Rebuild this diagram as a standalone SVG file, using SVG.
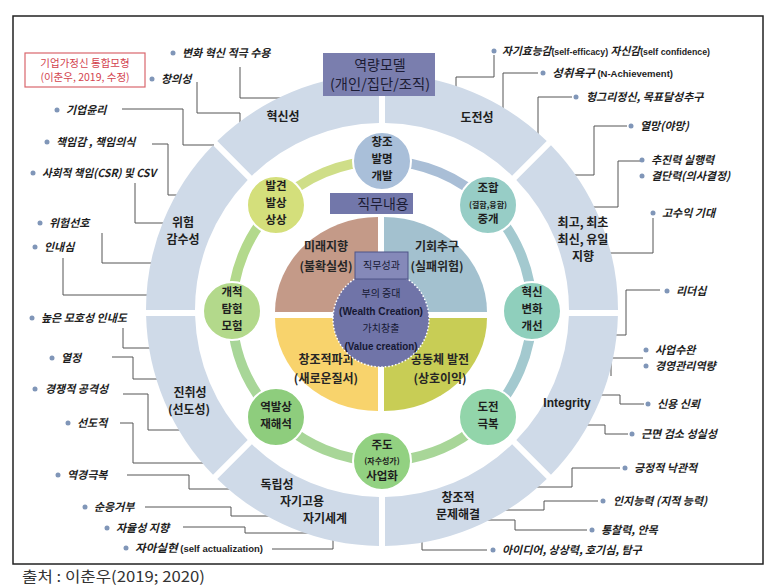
<svg xmlns="http://www.w3.org/2000/svg" width="778" height="585" viewBox="0 0 778 585">
<style>
text{font-family:"Noto Sans CJK KR","Noto Sans",sans-serif}
.seg{fill:#cfdae8}
.lbl{font-size:12px;font-weight:bold;fill:#1e1e1e;text-anchor:middle}
.en{font-family:"Liberation Sans",Arial,sans-serif;font-weight:bold}
.ct{font-size:11.5px;font-weight:bold;fill:#1e1e1e;text-anchor:middle}
.cs{font-size:8px}
.qt{font-size:12px;font-weight:bold;fill:#262626;text-anchor:middle}
.it{font-size:11px;font-weight:bold;font-style:italic;fill:#1e1e1e}
.ie{font-family:"Liberation Sans",Arial,sans-serif;font-style:normal;font-size:9px}
.dot{fill:#8096b8}
.con{fill:none;stroke:#555;stroke-width:1}
.cc{stroke:#fff;stroke-width:2}
.arc{fill:none;stroke-width:10}
.bt{font-size:14px;fill:#1c1c34;text-anchor:middle}
.mt{font-size:10px;fill:#161833;text-anchor:middle}
</style>

<g id="connectors">
<polyline class="con" points="240,67 240,98 290,98"/>
<polyline class="con" points="197,82 197,113 240,113 240,130"/>
<polyline class="con" points="122,109 183,109 183,145 214,145"/>
<polyline class="con" points="152,144 168,144 168,195 182,195"/>
<polyline class="con" points="135,183 135,223 168,223"/>
<polyline class="con" points="102,233 102,263 155,263"/>
<polyline class="con" points="63,258 63,295 152,295"/>
<polyline class="con" points="123,328 123,348 155,348"/>
<polyline class="con" points="112,357 133,357 133,379 162,379"/>
<polyline class="con" points="123,394 148,394 148,430 185,430"/>
<polyline class="con" points="120,423 133,423 133,463 208,463"/>
<polyline class="con" points="127,475 189,475 189,489 234,489"/>
<polyline class="con" points="145,507 231,507 231,516 275,516"/>
<polyline class="con" points="183,527 245,527 245,533 315,533"/>
<polyline class="con" points="272,549 333,549 333,536"/>
<polyline class="con" points="494,55 494,77 456,77 456,91"/>
<polyline class="con" points="538,73 503,73 503,112"/>
<polyline class="con" points="572,97 538,97 538,140"/>
<polyline class="con" points="627,126 594,126 594,175 570,175"/>
<polyline class="con" points="640,161 618,161 618,207 589,207"/>
<polyline class="con" points="653,218 653,253 605,253"/>
<polyline class="con" points="660,290 626,290 626,335 611,335"/>
<polyline class="con" points="643,358 606,358"/>
<polyline class="con" points="611,358 611,376"/>
<polyline class="con" points="644,404 620,404 620,395 596,395"/>
<polyline class="con" points="628,434 605,434 605,425 582,425"/>
<polyline class="con" points="620,468 572,468 572,487 532,487"/>
<polyline class="con" points="598,501 544,501 544,510 500,510"/>
<polyline class="con" points="587,530 515,530 515,520 476,520"/>
<polyline class="con" points="487,550 422,550 422,536"/>
</g>

<g id="outer-ring">
<g id="seg-choego"><path class="seg" d="M618,310 A236,236 0 0 0 550.98,145.26 L516.33,179.91 A187,187 0 0 1 569,310 Z"/>
<text class="lbl" x="583" y="227">최고, 최초</text><text class="lbl" x="583" y="244">최신, 유일</text><text class="lbl" x="583" y="261">지향</text></g>
<g id="seg-dojeon"><path class="seg" d="M546.74,141.02 A236,236 0 0 0 385,74.02 L385,123.02 A187,187 0 0 1 512.09,175.67 Z"/>
<text class="lbl" x="477" y="122">도전성</text></g>
<g id="seg-hyeoksin"><path class="seg" d="M379,74.02 A236,236 0 0 0 217.26,141.02 L251.91,175.67 A187,187 0 0 1 379,123.02 Z"/>
<text class="lbl" x="283" y="121">혁신성</text></g>
<g id="seg-wiheom"><path class="seg" d="M213.02,145.26 A236,236 0 0 0 146,310 L195,310 A187,187 0 0 1 247.67,179.91 Z"/>
<text class="lbl" x="183" y="227">위험</text><text class="lbl" x="183" y="244">감수성</text></g>
<g id="seg-jinchwi"><path class="seg" d="M146.1,316 A236,236 0 0 0 213.02,474.74 L247.67,440.09 A187,187 0 0 1 195.1,316 Z"/>
<text class="lbl" x="190" y="397">진취성</text><text class="lbl" x="189" y="414">(선도성)</text></g>
<g id="seg-dongnip"><path class="seg" d="M217.26,478.98 A236,236 0 0 0 379,545.98 L379,496.98 A187,187 0 0 1 251.91,444.33 Z"/>
<text class="lbl" x="277" y="489">독립성</text><text class="lbl" x="302" y="506">자기고용</text><text class="lbl" x="325" y="523">자기세계</text></g>
<g id="seg-changjo"><path class="seg" d="M385,545.98 A236,236 0 0 0 546.74,478.98 L512.09,444.33 A187,187 0 0 1 385,496.98 Z"/>
<text class="lbl" x="458" y="502">창조적</text><text class="lbl" x="458" y="519">문제해결</text></g>
<g id="seg-integrity"><path class="seg" d="M550.98,474.74 A236,236 0 0 0 617.9,316 L568.9,316 A187,187 0 0 1 516.33,440.09 Z"/>
<text class="lbl en" x="567" y="407" font-size="12">Integrity</text></g>
</g>

<g id="mid-ring">
<path class="arc" stroke="#cfde88" d="M382,161 A150,150 0 0 0 275.93,204.93"/>
<path class="arc" stroke="#a9bed6" d="M488.07,204.93 A150,150 0 0 0 382,161"/>
<path class="arc" stroke="#a3c9cf" d="M488.07,417.07 A150,150 0 0 0 488.07,204.93"/>
<path class="arc" stroke="#a8d698" d="M232,311 A150,150 0 0 0 488.07,417.07"/>
<path class="arc" stroke="#b3d98c" d="M275.93,204.93 A150,150 0 0 0 232,311"/>
</g>

<g id="c-changjo"><circle class="cc" cx="382" cy="161" r="29" fill="#a9bfd9"/>
<text class="ct" x="382" y="146">창조</text><text class="ct" x="382" y="163">발명</text><text class="ct" x="382" y="180">개발</text></g>
<g id="c-johap"><circle class="cc" cx="488" cy="205" r="29" fill="#97cdc6"/>
<text class="ct" x="488" y="192">조합</text><text class="ct cs" x="488" y="208">(결합,융합)</text><text class="ct" x="488" y="223">중개</text></g>
<g id="c-hyeoksin"><circle class="cc" cx="532" cy="311" r="29" fill="#8fcfbc"/>
<text class="ct" x="532" y="296">혁신</text><text class="ct" x="532" y="313">변화</text><text class="ct" x="532" y="330">개선</text></g>
<g id="c-dojeon"><circle class="cc" cx="488" cy="417" r="29" fill="#92d5aa"/>
<text class="ct" x="488" y="411">도전</text><text class="ct" x="488" y="428">극복</text></g>
<g id="c-judo"><circle class="cc" cx="382" cy="461" r="29" fill="#92d181"/>
<text class="ct" x="382" y="449">주도</text><text class="ct cs" x="382" y="464" font-size="8.5">(자수성가)</text><text class="ct" x="382" y="480">사업화</text></g>
<g id="c-yeokbal"><circle class="cc" cx="276" cy="417" r="29" fill="#8ecd7d"/>
<text class="ct" x="276" y="411">역발상</text><text class="ct" x="276" y="428">재해석</text></g>
<g id="c-gaechuk"><circle class="cc" cx="232" cy="311" r="29" fill="#b3d98b"/>
<text class="ct" x="232" y="296">개척</text><text class="ct" x="232" y="313">탐험</text><text class="ct" x="232" y="330">모험</text></g>
<g id="c-balgyeon"><circle class="cc" cx="276" cy="205" r="29" fill="#d4df7b"/>
<text class="ct" x="276" y="190">발견</text><text class="ct" x="276" y="207">발상</text><text class="ct" x="276" y="224">상상</text></g>

<g id="q-mirae"><path d="M378,312 L275,312 A103,95 0 0 1 378,217 Z" fill="#c49a88"/>
<text class="qt" x="326" y="251">미래지향</text><text class="qt" x="326" y="271">(불확실성)</text></g>
<g id="q-gihoe"><path d="M384,312 L384,217 A103,95 0 0 1 487,312 Z" fill="#a3c1cf"/>
<text class="qt" x="437" y="251">기회추구</text><text class="qt" x="437" y="271">(실패위험)</text></g>
<g id="q-pagoe"><path d="M378,318 L378,411 A103,93 0 0 1 275,318 Z" fill="#f8d36c"/>
<text class="qt" x="326" y="364">창조적파괴</text><text class="qt" x="326" y="383">(새로운질서)</text></g>
<g id="q-gongdong"><path d="M384,318 L487,318 A103,93 0 0 1 384,411 Z" fill="#c8cd55"/>
<text class="qt" x="440" y="364">공동체 발전</text><text class="qt" x="440" y="383">(상호이익)</text></g>

<g id="center">
<circle cx="381" cy="319" r="48" fill="#7074a8" stroke="#ffffff" stroke-width="1.5" stroke-dasharray="1.5 2"/>
<text class="mt" x="381" y="297">부의 증대</text>
<text class="mt en" x="381" y="315" font-size="9.5" textLength="84" lengthAdjust="spacingAndGlyphs">(Wealth Creation)</text>
<text class="mt" x="381" y="332">가치창출</text>
<text class="mt en" x="381" y="350" font-size="9.5" textLength="73" lengthAdjust="spacingAndGlyphs">(Value creation)</text>
</g>

<g id="box-seonggwa"><rect x="355" y="252" width="53" height="27" fill="#8589b9" stroke="#4f5488" stroke-width="1"/>
<text class="mt" x="381.5" y="269" font-size="9.5" fill="#22244a">직무성과</text></g>
<g id="box-naeyong"><rect x="330" y="193" width="83" height="21" fill="#7277aa"/>
<text class="bt" x="383" y="209">직무내용</text></g>
<g id="box-model"><rect x="323" y="53" width="112" height="43" fill="#7a7eae"/>
<text class="bt" x="380" y="70">역량모델</text>
<text class="bt" x="380" y="89" textLength="100" lengthAdjust="spacingAndGlyphs">(개인/집단/조직)</text></g>

<g id="title-box"><rect x="25" y="53" width="120" height="34" fill="#fff" stroke="#d9666d" stroke-width="1.2"/>
<text x="85" y="67" font-size="10.5" fill="#d3434e" text-anchor="middle">기업가정신 통합모형</text>
<text x="85" y="81" font-size="10.5" fill="#d3434e" text-anchor="middle">(이춘우, 2019, 수정)</text></g>

<g id="items">
<circle class="dot" cx="173" cy="53" r="2.5"/><text class="it" x="182" y="57">변화 혁신 적극 수용</text>
<circle class="dot" cx="152" cy="79" r="2.5"/><text class="it" x="161" y="83">창의성</text>
<circle class="dot" cx="57" cy="110" r="2.5"/><text class="it" x="66" y="114">기업윤리</text>
<circle class="dot" cx="47" cy="142" r="2.5"/><text class="it" x="56" y="146">책임감 , 책임의식</text>
<circle class="dot" cx="33" cy="173" r="2.5"/><text class="it" x="42" y="177" textLength="114" lengthAdjust="spacingAndGlyphs">사회적 책임(CSR) 및 CSV</text>
<circle class="dot" cx="40" cy="223" r="2.5"/><text class="it" x="49" y="227">위험선호</text>
<circle class="dot" cx="35" cy="247" r="2.5"/><text class="it" x="44" y="251">인내심</text>
<circle class="dot" cx="32" cy="318" r="2.5"/><text class="it" x="41" y="322">높은 모호성 인내도</text>
<circle class="dot" cx="52" cy="358" r="2.5"/><text class="it" x="61" y="362">열정</text>
<circle class="dot" cx="35" cy="389" r="2.5"/><text class="it" x="45" y="393">경쟁적 공격성</text>
<circle class="dot" cx="68" cy="423" r="2.5"/><text class="it" x="77" y="427">선도적</text>
<circle class="dot" cx="58" cy="475" r="2.5"/><text class="it" x="67" y="479">역경극복</text>
<circle class="dot" cx="85" cy="507" r="2.5"/><text class="it" x="94" y="511">순응거부</text>
<circle class="dot" cx="107" cy="528" r="2.5"/><text class="it" x="116" y="532">자율성 지향</text>
<circle class="dot" cx="126" cy="548" r="2.5"/><text class="it" x="135" y="552" textLength="128" lengthAdjust="spacingAndGlyphs">자아실현 <tspan class="ie">(self actualization)</tspan></text>
<circle class="dot" cx="494" cy="51" r="2.5"/><text class="it" x="502" y="55" textLength="208" lengthAdjust="spacingAndGlyphs">자기효능감<tspan class="ie">(self-efficacy)</tspan>  자신감<tspan class="ie">(self confidence)</tspan></text>
<circle class="dot" cx="543" cy="73" r="2.5"/><text class="it" x="552" y="77" textLength="121" lengthAdjust="spacingAndGlyphs">성취욕구 <tspan class="ie">(N-Achievement)</tspan></text>
<circle class="dot" cx="576" cy="97" r="2.5"/><text class="it" x="586" y="101">헝그리정신, 목표달성추구</text>
<circle class="dot" cx="631" cy="126" r="2.5"/><text class="it" x="640" y="130">열망(야망)</text>
<circle class="dot" cx="642" cy="160" r="2.5"/><text class="it" x="651" y="164">추진력 실행력</text>
<circle class="dot" cx="642" cy="176" r="2.5"/><text class="it" x="651" y="180">결단력(의사결정)</text>
<circle class="dot" cx="653" cy="213" r="2.5"/><text class="it" x="662" y="217">고수익 기대</text>
<circle class="dot" cx="667" cy="291" r="2.5"/><text class="it" x="676" y="295">리더십</text>
<circle class="dot" cx="646" cy="350" r="2.5"/><text class="it" x="655" y="354">사업수완</text>
<circle class="dot" cx="646" cy="366" r="2.5"/><text class="it" x="655" y="370">경영관리역량</text>
<circle class="dot" cx="648" cy="404" r="2.5"/><text class="it" x="657" y="408">신용 신뢰</text>
<circle class="dot" cx="632" cy="434" r="2.5"/><text class="it" x="641" y="438">근면 검소 성실성</text>
<circle class="dot" cx="625" cy="468" r="2.5"/><text class="it" x="634" y="472">긍정적 낙관적</text>
<circle class="dot" cx="603" cy="501" r="2.5"/><text class="it" x="613" y="505">인지능력 (지적 능력)</text>
<circle class="dot" cx="592" cy="530" r="2.5"/><text class="it" x="601" y="534">통찰력, 안목</text>
<circle class="dot" cx="493" cy="550" r="2.5"/><text class="it" x="502" y="554">아이디어, 상상력, 호기심, 탐구</text>
</g>

<rect id="frame" x="13" y="16" width="750" height="548" fill="none" stroke="#222" stroke-width="1.5"/>
<text id="source" x="22" y="582" font-family="'Liberation Serif','Noto Sans CJK KR',serif" font-size="15" fill="#333" textLength="183" lengthAdjust="spacingAndGlyphs">출처 : 이춘우(2019; 2020)</text>
</svg>
